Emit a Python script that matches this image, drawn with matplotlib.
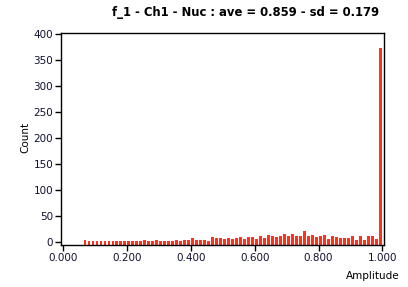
import numpy as np
import matplotlib
matplotlib.use('Agg')
import matplotlib.pyplot as plt

# histogram: 80 bins of width 0.0125 over 0..1
bin_width = 0.0125
bin_left = np.arange(80) * bin_width
counts = [0, 0, 0, 0, 0, 4, 2, 2, 2, 2,
          2, 2, 2, 2, 2, 2, 2, 2, 2, 2,
          4, 2, 2, 4, 2, 2, 2, 2, 4, 2,
          4, 4, 8, 4, 4, 4, 2, 10, 8, 8,
          6, 8, 6, 8, 10, 6, 10, 10, 6, 13,
          8, 15, 13, 10, 12, 17, 12, 17, 13, 13,
          21, 12, 15, 10, 12, 15, 6, 13, 10, 8,
          8, 8, 12, 4, 12, 4, 12, 13, 6, 372]
x_ticks = [0.0, 0.2, 0.4, 0.6, 0.8, 1.0]
x_tick_labels = ["0.000", "0.200", "0.400", "0.600", "0.800", "1.000"]
y_ticks = [0, 50, 100, 150, 200, 250, 300, 350, 400]
title = "f_1 - Ch1 - Nuc : ave = 0.859 - sd = 0.179"

fig = plt.figure(figsize=(4.08, 2.87), dpi=100)
ax = fig.add_axes([0.1507, 0.1463, 0.791, 0.7376])

# bars sit on the bottom of the axes, empty bins are not drawn
y_min = -5
counts = np.array(counts)
nz = counts > 0
ax.bar(bin_left[nz] + bin_width * 0.15, counts[nz] - y_min, bottom=y_min,
       width=bin_width * 0.7, align='edge', color='#ff3118', linewidth=0)

ax.set_xlim(-0.0047, 1.0055)
ax.set_ylim(y_min, 401)
ax.set_xticks(x_ticks)
ax.set_xticklabels(x_tick_labels)
ax.set_yticks(y_ticks)
ax.tick_params(direction='out', length=4, width=1, labelsize=7.5,
               labelcolor='#101030', pad=2)
for s in ax.spines.values():
    s.set_linewidth(1)

fig.text(0.062, 0.52, "Count", rotation=90, ha='center', va='center', fontsize=7.5)
fig.text(0.98, 0.04, "Amplitude", ha='right', va='center', fontsize=7.5)
fig.text(0.603, 0.955, title, ha='center', va='center', fontsize=8.4, fontweight='bold')

fig.savefig("out.png", dpi=100)
